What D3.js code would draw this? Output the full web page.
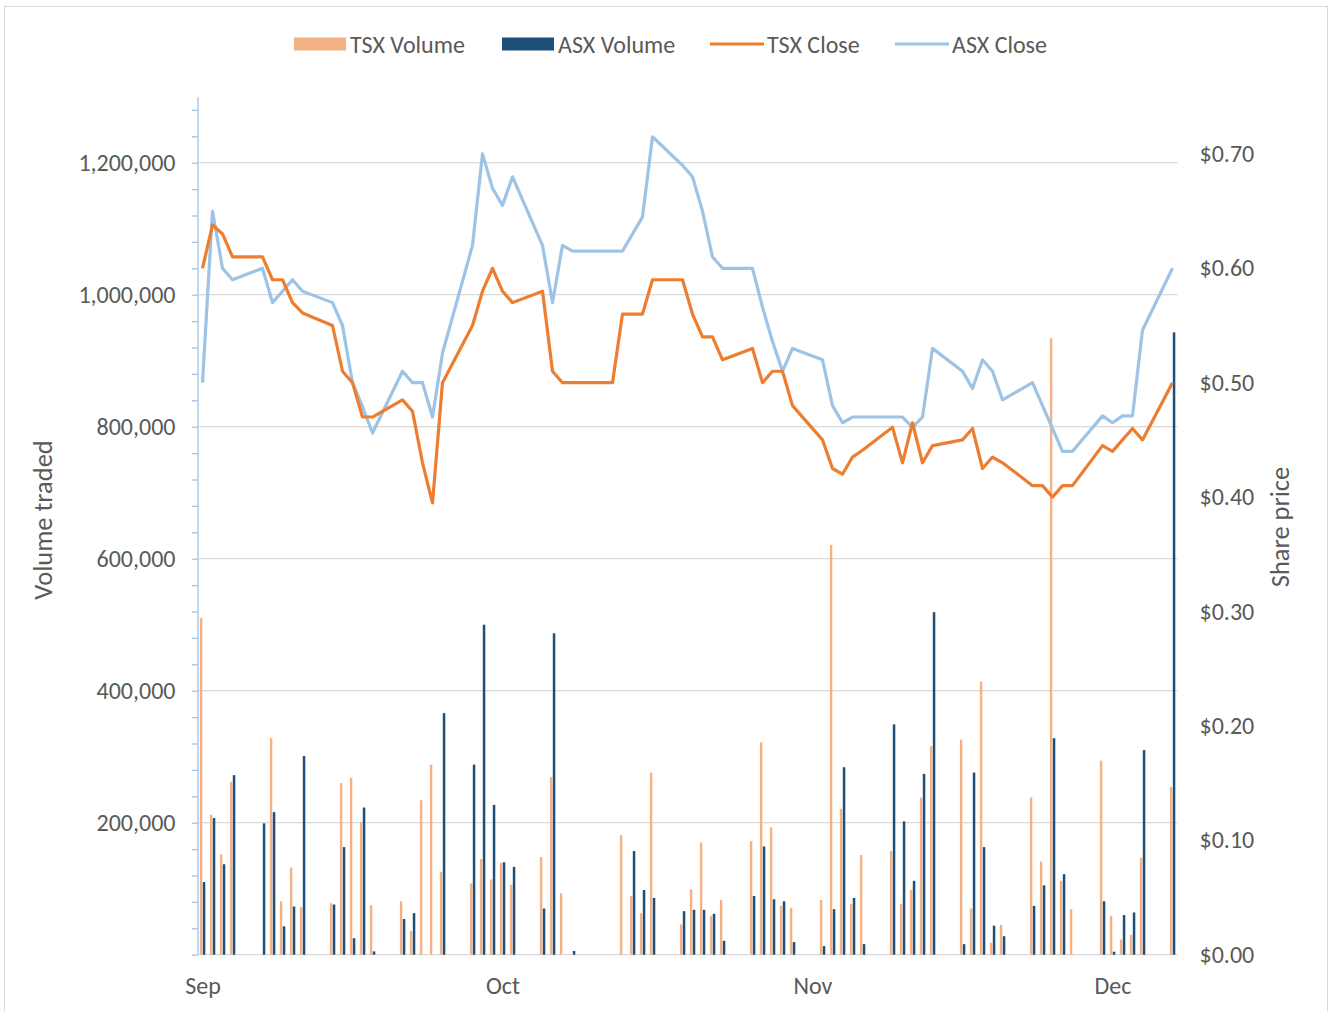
<!DOCTYPE html>
<html>
<head>
<meta charset="utf-8">
<script src="https://cdn.jsdelivr.net/npm/d3@7"></script>
<style>
body { margin: 0; background: #fff; }
svg text { font-family: Carlito, Calibri, Lato, "Open Sans", sans-serif; fill: #595959; }
</style>
</head>
<body>
<svg id="chart" width="1330" height="1011"></svg>
<script>
// trading days (2015)
const dates = [
  "2015-09-01","2015-09-02","2015-09-03","2015-09-04","2015-09-07","2015-09-08","2015-09-09","2015-09-10","2015-09-11",
  "2015-09-14","2015-09-15","2015-09-16","2015-09-17","2015-09-18","2015-09-21","2015-09-22","2015-09-23","2015-09-24","2015-09-25",
  "2015-09-28","2015-09-29","2015-09-30","2015-10-01","2015-10-02","2015-10-05","2015-10-06","2015-10-07","2015-10-08","2015-10-09",
  "2015-10-12","2015-10-13","2015-10-14","2015-10-15","2015-10-16","2015-10-19","2015-10-20","2015-10-21","2015-10-22","2015-10-23",
  "2015-10-26","2015-10-27","2015-10-28","2015-10-29","2015-10-30","2015-11-02","2015-11-03","2015-11-04","2015-11-05","2015-11-06",
  "2015-11-09","2015-11-10","2015-11-11","2015-11-12","2015-11-13","2015-11-16","2015-11-17","2015-11-18","2015-11-19","2015-11-20",
  "2015-11-23","2015-11-24","2015-11-25","2015-11-26","2015-11-27","2015-11-30","2015-12-01","2015-12-02","2015-12-03","2015-12-04",
  "2015-12-07"
];
const tsxVolume = [
  510000,212000,152000,262000,0,328000,81000,132000,72000,
  78000,260000,268000,201000,75000,81000,36000,234000,288000,125000,
  108000,145000,114000,139000,106000,148000,269000,93000,0,0,
  0,181000,89000,63000,276000,46000,99000,170000,59000,83000,
  172000,322000,193000,74000,71000,83000,621000,221000,77000,151000,
  157000,77000,98000,238000,316000,326000,70000,414000,18000,45000,
  238000,141000,934000,112000,69000,294000,59000,23000,30000,147000,
  254000
];
const asxVolume = [
  110000,207000,137000,272000,199000,216000,43000,73000,301000,
  76000,163000,25000,223000,5000,54000,63000,0,0,366000,
  288000,500000,227000,140000,133000,70000,487000,0,5600,0,
  0,0,157000,98000,86000,66000,68000,68000,62000,21000,
  89000,164000,84000,81000,19000,13000,69000,284000,86000,16000,
  349000,202000,112000,274000,519000,16000,276000,163000,44000,28000,
  74000,105000,328000,122000,0,81000,4500,60000,64000,310000,
  943000
];
const tsxClose = [
  0.600,0.638,0.630,0.610,0.610,0.590,0.590,0.570,0.561,
  0.550,0.510,0.500,0.470,0.470,0.485,0.475,0.430,0.395,0.500,
  0.550,0.580,0.600,0.580,0.570,0.580,0.510,0.500,0.500,0.500,
  0.500,0.560,0.560,0.560,0.590,0.590,0.560,0.540,0.540,0.520,
  0.530,0.500,0.510,0.510,0.480,0.450,0.425,0.420,0.435,0.441,
  0.461,0.430,0.465,0.430,0.445,0.450,0.460,0.425,0.435,0.430,
  0.410,0.410,0.400,0.410,0.410,0.445,0.440,0.450,0.460,0.450,
  0.500
];
const asxClose = [
  0.500,0.650,0.600,0.590,0.600,0.570,0.580,0.590,0.580,
  0.570,0.550,0.500,0.479,0.456,0.510,0.500,0.500,0.470,0.526,
  0.620,0.700,0.670,0.655,0.680,0.620,0.570,0.620,0.615,0.615,
  0.615,0.615,0.630,0.645,0.715,0.690,0.680,0.650,0.610,0.600,
  0.600,0.566,0.536,0.510,0.530,0.520,0.480,0.465,0.470,0.470,
  0.470,0.470,0.461,0.470,0.530,0.510,0.495,0.520,0.510,0.485,
  0.500,0.480,0.460,0.440,0.440,0.471,0.465,0.471,0.471,0.546,
  0.600
];
const gridTicks = [0, 200000, 400000, 600000, 800000, 1000000, 1200000];
const volumeLabels = [200000, 400000, 600000, 800000, 1000000, 1200000];
const priceTicks = [0, 0.1, 0.2, 0.3, 0.4, 0.5, 0.6, 0.7];
const monthTicks = ["2015-09-01", "2015-10-01", "2015-11-01", "2015-12-01"];
const seriesNames = ["TSX Volume", "ASX Volume", "TSX Close", "ASX Close"];

const colors = {
  tsxVol: "#F4B183",
  asxVol: "#1F4E79",
  tsxClose: "#ED7D31",
  asxClose: "#9DC3E6"
};

const svg = d3.select("#chart");
const parse = d3.utcParse("%Y-%m-%d");
const rows = dates.map((d, i) => ({
  date: parse(d),
  tsxVol: tsxVolume[i],
  asxVol: asxVolume[i],
  tsx: tsxClose[i],
  asx: asxClose[i]
}));

const plotLeft = 197.5, plotRight = 1177.5, plotTop = 96.7, plotBottom = 954.7;
const labelSize = 24;

const x = d3.scaleUtc()
  .domain([Date.UTC(2015, 7, 31, 12), Date.UTC(2015, 11, 7, 12)])
  .range([plotLeft, plotRight]);
const yVol = d3.scaleLinear().domain([0, 1300000]).range([plotBottom, plotTop]);
const yPrice = d3.scaleLinear().domain([0, 0.75]).range([plotBottom, plotTop]);

// chart border
svg.append("rect")
  .attr("x", 4.5).attr("y", 6.5)
  .attr("width", 1323).attr("height", 1010)
  .attr("fill", "none").attr("stroke", "#d9d9d9");

// gridlines
svg.append("g").selectAll("line")
  .data(gridTicks)
  .enter().append("line")
  .attr("x1", plotLeft).attr("x2", plotRight)
  .attr("y1", d => yVol(d)).attr("y2", d => yVol(d))
  .attr("stroke", "#d9d9d9").attr("stroke-width", 1.3);

// bars
const bars = svg.append("g");
bars.selectAll(".tsxbar")
  .data(rows.filter(d => d.tsxVol > 0))
  .enter().append("rect")
  .attr("class", "tsxbar")
  .attr("x", d => x(d.date) - 2.6)
  .attr("width", 2.4)
  .attr("y", d => yVol(d.tsxVol))
  .attr("height", d => yVol(0) - yVol(d.tsxVol))
  .attr("fill", colors.tsxVol);
bars.selectAll(".asxbar")
  .data(rows.filter(d => d.asxVol > 0))
  .enter().append("rect")
  .attr("class", "asxbar")
  .attr("x", d => x(d.date) + 0.3)
  .attr("width", 2.5)
  .attr("y", d => yVol(d.asxVol))
  .attr("height", d => yVol(0) - yVol(d.asxVol))
  .attr("fill", colors.asxVol);

// lines
const tsxLine = d3.line().x(d => x(d.date)).y(d => yPrice(d.tsx));
const asxLine = d3.line().x(d => x(d.date)).y(d => yPrice(d.asx));
svg.append("path").datum(rows)
  .attr("d", asxLine)
  .attr("fill", "none").attr("stroke", colors.asxClose)
  .attr("stroke-width", 3.2).attr("stroke-linejoin", "round");
svg.append("path").datum(rows)
  .attr("d", tsxLine)
  .attr("fill", "none").attr("stroke", colors.tsxClose)
  .attr("stroke-width", 3.2).attr("stroke-linejoin", "round");

// left axis line with minor ticks
const leftAxis = svg.append("g")
  .attr("transform", "translate(" + plotLeft + ",0)")
  .call(d3.axisLeft(yVol)
    .tickValues(d3.range(0, 1300000, 40000))
    .tickFormat("")
    .tickSize(5.5)
    .tickSizeOuter(0));
leftAxis.selectAll("path, line").attr("stroke", colors.asxClose).attr("stroke-width", 1.3);

// left labels
const leftLabels = svg.append("g")
  .attr("transform", "translate(" + plotLeft + ",0)")
  .call(d3.axisLeft(yVol)
    .tickValues(volumeLabels)
    .tickFormat(d3.format(","))
    .tickSize(0)
    .tickPadding(22));
leftLabels.select(".domain").remove();
leftLabels.selectAll("text").attr("font-size", labelSize).attr("fill", "#595959")
  .style("font-family", "Carlito, Calibri, Lato, sans-serif");

// right labels
const rightLabels = svg.append("g")
  .attr("transform", "translate(" + plotRight + ",0)")
  .call(d3.axisRight(yPrice)
    .tickValues(priceTicks)
    .tickFormat(d => "$" + d3.format(".2f")(d))
    .tickSize(0)
    .tickPadding(22));
rightLabels.select(".domain").remove();
rightLabels.selectAll("text").attr("font-size", labelSize).attr("fill", "#595959")
  .style("font-family", "Carlito, Calibri, Lato, sans-serif");

// month labels
const bottom = svg.append("g")
  .attr("transform", "translate(0," + plotBottom + ")")
  .call(d3.axisBottom(x)
    .tickValues(monthTicks.map(parse))
    .tickFormat(d3.utcFormat("%b"))
    .tickSize(0)
    .tickPadding(22));
bottom.select(".domain").remove();
bottom.selectAll("text").attr("font-size", labelSize).attr("fill", "#595959")
  .style("font-family", "Carlito, Calibri, Lato, sans-serif");

// axis titles
svg.append("text")
  .attr("transform", "translate(43,520) rotate(-90)")
  .attr("text-anchor", "middle").attr("dominant-baseline", "central")
  .attr("font-size", 26.5)
  .text("Volume traded");
svg.append("text")
  .attr("transform", "translate(1280,527) rotate(-90)")
  .attr("text-anchor", "middle").attr("dominant-baseline", "central")
  .attr("font-size", 26.5)
  .text("Share price");

// legend
const legendX = [294, 502, 710, 895];
const legendKind = ["bar", "bar", "line", "line"];
const legendColor = [colors.tsxVol, colors.asxVol, colors.tsxClose, colors.asxClose];
const legend = svg.append("g").selectAll("g")
  .data(seriesNames)
  .enter().append("g")
  .attr("transform", (d, i) => "translate(" + legendX[i] + ",44)");
legend.each(function(d, i) {
  const g = d3.select(this);
  if (legendKind[i] === "bar") {
    g.append("rect").attr("x", 0).attr("y", -6.5).attr("width", 52).attr("height", 13)
      .attr("fill", legendColor[i]);
    g.append("text").attr("x", 56).attr("dominant-baseline", "central")
      .attr("font-size", labelSize).text(d);
  } else {
    g.append("line").attr("x1", 0).attr("x2", 54).attr("y1", 0).attr("y2", 0)
      .attr("stroke", legendColor[i]).attr("stroke-width", 3.2);
    g.append("text").attr("x", 57).attr("dominant-baseline", "central")
      .attr("font-size", labelSize).text(d);
  }
});
</script>
</body>
</html>
